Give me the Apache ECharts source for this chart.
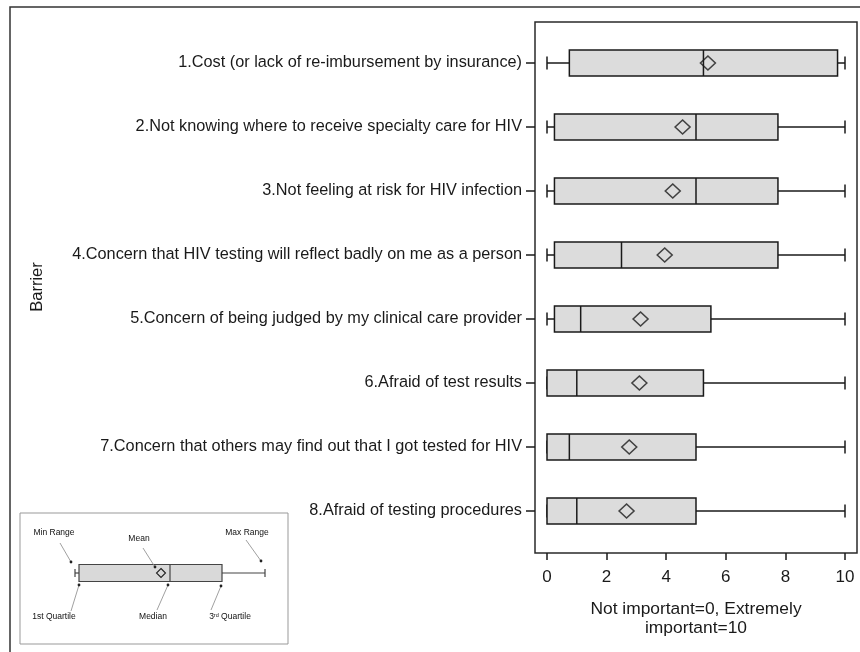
<!DOCTYPE html>
<html>
<head>
<meta charset="utf-8">
<script src="https://cdn.jsdelivr.net/npm/echarts@6/dist/echarts.min.js"></script>
<style>
html,body{margin:0;padding:0;background:#fff;}
#chart{width:860px;height:652px;}
</style>
</head>
<body>
<div id="chart"></div>
<script>
// ---- data ----
var categories = [
  "1.Cost (or lack of re-imbursement by insurance)",
  "2.Not knowing where to receive specialty care for HIV",
  "3.Not feeling at risk for HIV infection",
  "4.Concern that HIV testing will reflect badly on me as a person",
  "5.Concern of being judged by my clinical care provider",
  "6.Afraid of test results",
  "7.Concern that others may find out that I got tested for HIV",
  "8.Afraid of testing procedures"
];
var mins    = [0, 0, 0, 0, 0, 0, 0, 0];
var q1s     = [0.75, 0.25, 0.25, 0.25, 0.25, 0, 0, 0];
var medians = [5.25, 5, 5, 2.5, 1.13, 1, 0.75, 1];
var q3s     = [9.75, 7.75, 7.75, 7.75, 5.5, 5.25, 5, 5];
var maxs    = [10, 10, 10, 10, 10, 10, 10, 10];
var means   = [5.4, 4.55, 4.22, 3.95, 3.14, 3.1, 2.76, 2.67];
var xTicks  = [0, 2, 4, 6, 8, 10];
var xTitle  = "Not important=0, Extremely\nimportant=10";
var yTitle  = "Barrier";

// ---- build series data ----
var boxData = categories.map(function (c, i) {
  return [i, mins[i], q1s[i], medians[i], q3s[i], maxs[i]];
});
var meanData = categories.map(function (c, i) { return [means[i], i]; });

var FONT = "'Liberation Sans', Arial, sans-serif";
var INK = "#1a1a1a";

function renderBox(params, api) {
  var ci = api.value(0);
  var y = api.coord([0, ci])[1];
  var xMin = api.coord([api.value(1), ci])[0];
  var xQ1 = api.coord([api.value(2), ci])[0];
  var xMed = api.coord([api.value(3), ci])[0];
  var xQ3 = api.coord([api.value(4), ci])[0];
  var xMax = api.coord([api.value(5), ci])[0];
  var hb = 13, hc = 6.5;
  var ls = { stroke: INK, lineWidth: 1.5 };
  return {
    type: 'group',
    children: [
      { type: 'line', shape: { x1: xMin, y1: y, x2: xQ1, y2: y }, style: ls },
      { type: 'line', shape: { x1: xQ3, y1: y, x2: xMax, y2: y }, style: ls },
      { type: 'line', shape: { x1: xMin, y1: y - hc, x2: xMin, y2: y + hc }, style: ls },
      { type: 'line', shape: { x1: xMax, y1: y - hc, x2: xMax, y2: y + hc }, style: ls },
      { type: 'rect', shape: { x: xQ1, y: y - hb, width: xQ3 - xQ1, height: 2 * hb },
        style: { fill: '#dcdcdc', stroke: INK, lineWidth: 1.5 } },
      { type: 'line', shape: { x1: xMed, y1: y - hb, x2: xMed, y2: y + hb }, style: ls }
    ]
  };
}

// ---- inset legend diagram ----
function tx(x, y, t) {
  return { type: 'text', x: x, y: y, style: { text: t, font: "8.5px " + FONT, fill: '#111', align: 'center', verticalAlign: 'middle' } };
}
function pointer(x1, y1, x2, y2) {
  return [
    { type: 'line', shape: { x1: x1, y1: y1, x2: x2, y2: y2 }, style: { stroke: '#888', lineWidth: 0.8 } },
    { type: 'circle', shape: { cx: x2, cy: y2, r: 1.4 }, style: { fill: '#222' } }
  ];
}
var inset = [
  { type: 'rect', shape: { x: 20, y: 513, width: 268, height: 131 }, style: { fill: '#fff', stroke: '#999', lineWidth: 1 } },
  { type: 'line', shape: { x1: 75, y1: 573, x2: 79, y2: 573 }, style: { stroke: '#444', lineWidth: 1.2 } },
  { type: 'line', shape: { x1: 75, y1: 569, x2: 75, y2: 577 }, style: { stroke: '#444', lineWidth: 1.2 } },
  { type: 'line', shape: { x1: 222, y1: 573, x2: 265, y2: 573 }, style: { stroke: '#444', lineWidth: 1.2 } },
  { type: 'line', shape: { x1: 265, y1: 569, x2: 265, y2: 577 }, style: { stroke: '#444', lineWidth: 1.2 } },
  { type: 'rect', shape: { x: 79, y: 564.5, width: 143, height: 17 }, style: { fill: '#d9d9d9', stroke: '#444', lineWidth: 1.2 } },
  { type: 'line', shape: { x1: 170, y1: 564.5, x2: 170, y2: 581.5 }, style: { stroke: '#444', lineWidth: 1.2 } },
  { type: 'polygon', shape: { points: [[161, 568.5], [165.5, 573], [161, 577.5], [156.5, 573]] }, style: { fill: 'none', stroke: '#222', lineWidth: 1.1 } },
  tx(54, 533, 'Min Range'),
  tx(139, 539, 'Mean'),
  tx(247, 533, 'Max Range'),
  tx(54, 617, '1st Quartile'),
  tx(153, 617, 'Median'),
  {
    type: 'text', x: 230, y: 617,
    style: {
      text: '3{s|rd} Quartile', font: "8.5px " + FONT, fill: '#111', align: 'center', verticalAlign: 'middle',
      rich: { s: { fontSize: 5.5, verticalAlign: 'top', padding: [0, 0, 4, 0], fill: '#111' } }
    }
  }
].concat(
  pointer(60, 543, 71, 562),
  pointer(143, 548, 155, 567),
  pointer(246, 540, 261, 561),
  pointer(71, 611, 79, 585),
  pointer(157, 610, 168, 585),
  pointer(211, 610, 221, 586)
);

var chart = echarts.init(document.getElementById('chart'), null, { renderer: 'canvas' });
var option = {
  backgroundColor: '#fff',
  animation: false,
  textStyle: { fontFamily: FONT },
  grid: [
    { left: 547, right: 15, top: 31, bottom: 109 },
    { left: 535, right: 3, top: 22, bottom: 99, show: true, borderColor: '#2a2a2a', borderWidth: 1.5, backgroundColor: 'transparent' },
    { left: 535, right: 3, top: 31, bottom: 109 }
  ],
  xAxis: [
    {
      type: 'value', gridIndex: 0, min: xTicks[0], max: xTicks[xTicks.length - 1], interval: 2,
      position: 'bottom', offset: 10,
      axisLine: { show: false },
      axisTick: { show: true, length: 7, lineStyle: { color: INK, width: 1.5 } },
      axisLabel: { fontSize: 17, color: INK, margin: 16, fontFamily: FONT },
      splitLine: { show: false },
      name: xTitle, nameLocation: 'middle', nameGap: 47,
      nameTextStyle: { fontSize: 17.4, color: INK, lineHeight: 19, fontFamily: FONT, align: 'center', verticalAlign: 'top' }
    },
    { type: 'value', gridIndex: 1, show: false, min: 0, max: 1 },
    { type: 'value', gridIndex: 2, show: false, min: 0, max: 1 }
  ],
  yAxis: [
    { type: 'category', gridIndex: 0, data: categories, inverse: true, show: false },
    { type: 'value', gridIndex: 1, show: false, min: 0, max: 1 },
    {
      type: 'category', gridIndex: 2, data: categories, inverse: true,
      axisLine: { show: false },
      axisTick: { show: true, length: 9, alignWithLabel: true, lineStyle: { color: INK, width: 1.5 } },
      axisLabel: { fontSize: 16.3, color: INK, margin: 13, fontFamily: FONT },
      splitLine: { show: false }
    }
  ],
  series: [
    {
      type: 'custom', xAxisIndex: 0, yAxisIndex: 0,
      renderItem: renderBox,
      encode: { x: [1, 2, 3, 4, 5], y: 0 },
      data: boxData, z: 2
    },
    {
      type: 'scatter', xAxisIndex: 0, yAxisIndex: 0,
      data: meanData, symbol: 'diamond', symbolSize: [15, 14],
      itemStyle: { color: 'rgba(0,0,0,0)', borderColor: INK, borderWidth: 1.5 },
      z: 3
    }
  ],
  graphic: [
    { type: 'rect', shape: { x: 10, y: 7, width: 900, height: 700 }, style: { fill: 'none', stroke: '#333', lineWidth: 1.5 }, z: -1, silent: true },
    { type: 'text', x: 37, y: 287, rotation: Math.PI / 2, style: { text: yTitle, font: "16.5px " + FONT, fill: INK, align: 'center', verticalAlign: 'middle' } },
    { type: 'group', children: inset }
  ]
};
chart.setOption(option);
</script>
</body>
</html>
